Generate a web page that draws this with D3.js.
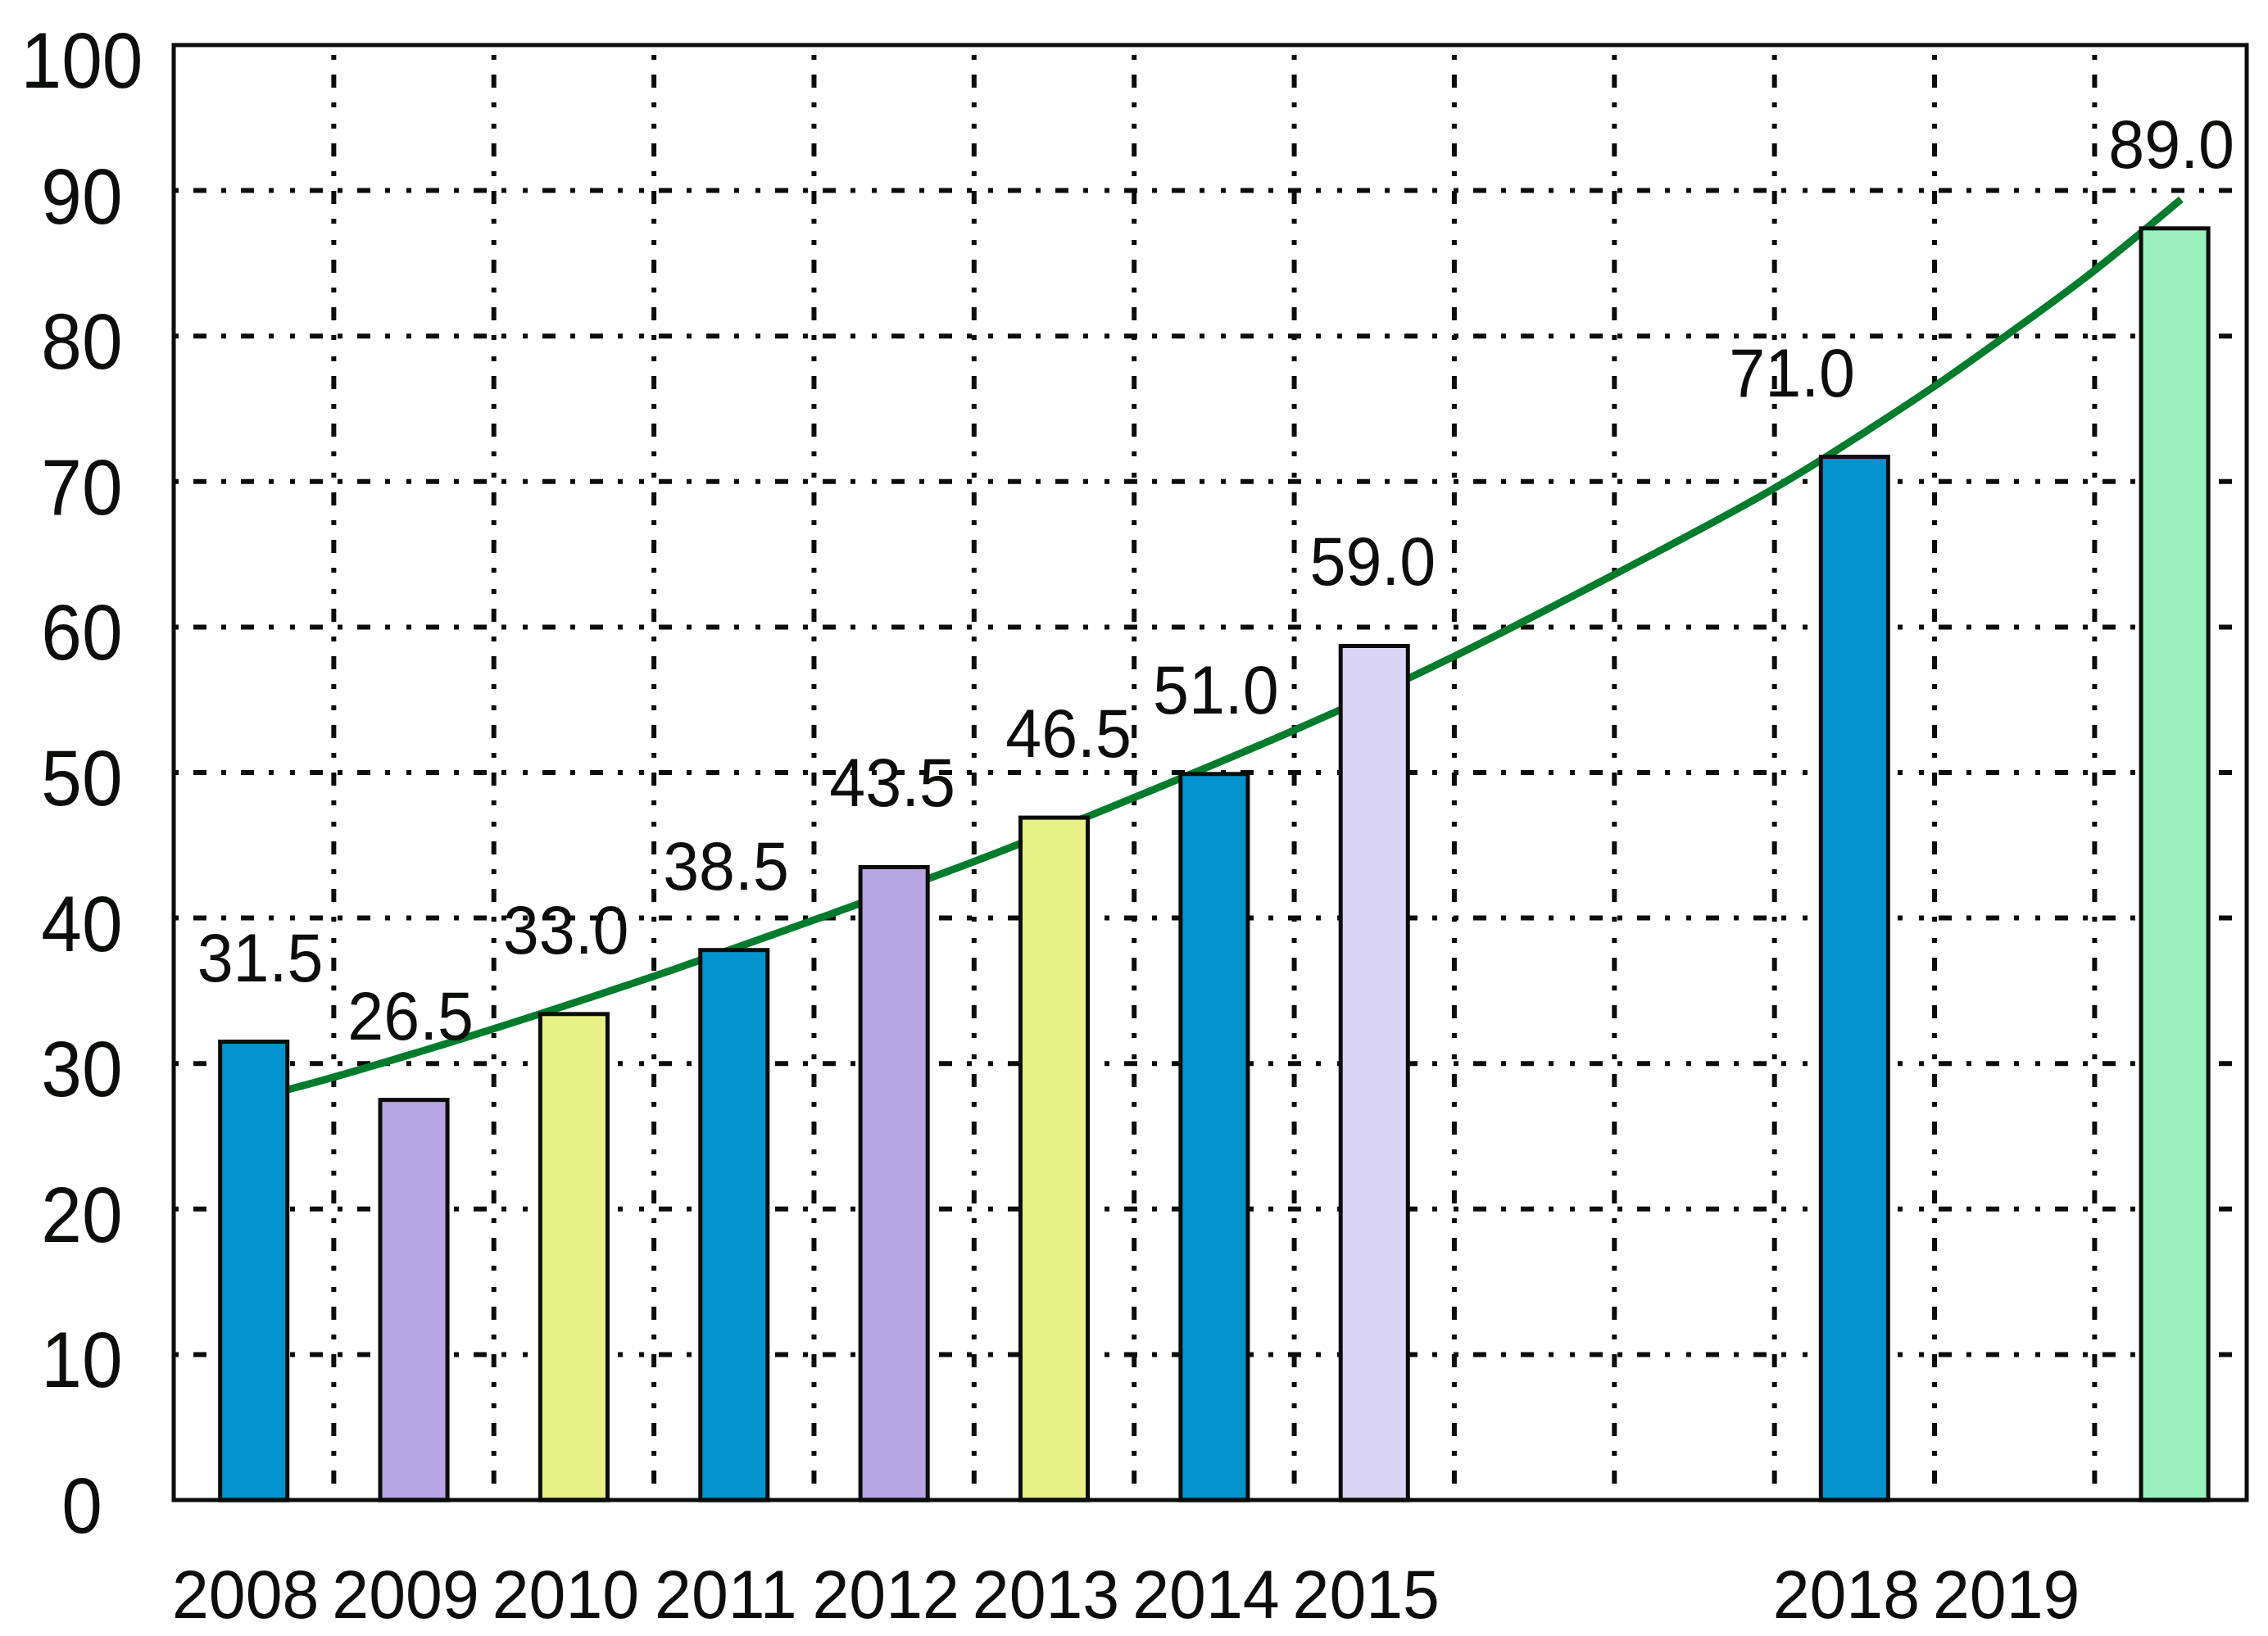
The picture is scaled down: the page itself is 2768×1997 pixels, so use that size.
<!DOCTYPE html>
<html>
<head>
<meta charset="utf-8">
<script src="https://cdn.jsdelivr.net/npm/d3@7"></script>
<style>
  html, body { margin: 0; padding: 0; background: #ffffff; }
  svg { display: block; }
  text { font-family: "Liberation Sans", Arial, sans-serif; fill: #0c0e0c; }
</style>
</head>
<body>
<svg id="chart" width="2768" height="1997"></svg>
<script>
// ---- data ----
const categories  = ['2008','2009','2010','2011','2012','2013','2014','2015','2018','2019'];
const barSlot     = [0, 1, 2, 3, 4, 5, 6, 7, 10, 12];
const barValues   = [31.5, 27.5, 33.4, 37.8, 43.5, 46.9, 49.9, 58.7, 71.7, 87.4];
const valueLabels = ['31.5','26.5','33.0','38.5','43.5','46.5','51.0','59.0','71.0','89.0'];
const labelNudge  = [0.04, -0.02, -0.05, -0.05, -0.01, 0.09, 0.01, -0.01, -0.39, -0.02];
const barColors   = ['#0393ce','#b8a5e3','#e8f186','#0393ce','#b8a5e3','#e8f186','#0393ce','#dad5f4','#0393ce','#9af1bd'];
const tickLabels  = ['2008','2009','2010','2011','2012','2013','2014','2015','2018','2019'];
const tickSlot    = [0, 1, 2, 3, 4, 5, 6, 7, 10, 11];
const yTicks      = [0, 10, 20, 30, 40, 50, 60, 70, 80, 90, 100];
const gridSlots   = [0.5, 1.5, 2.5, 3.5, 4.5, 5.5, 6.5, 7.5, 8.5, 9.5, 10.5, 11.5];
const trendSlot   = [0.21, 0.51, 1.52, 2.67, 3.51, 4.52, 5.24, 6.52, 7.52, 8.50, 9.52, 10.05, 10.53, 11.07, 11.51, 12.04];
const trendValue  = [28.2, 29.05, 32.4, 36.6, 39.9, 43.9, 47.1, 52.9, 58.0, 63.6, 69.5, 73.3, 76.7, 81.0, 84.5, 89.4];

// ---- layout ----
const svg = d3.select('#chart');
const ink = '#0b0d0b';
const x = d3.scaleLinear().domain([-0.5, 12.45]).range([212, 2742]);
const y = d3.scaleLinear().domain([0, 100]).range([1831, 55]);
const barW = x(0.42) - x(0);

svg.append('rect').attr('width', 2768).attr('height', 1997).attr('fill', '#fff');

// grid (dash-dot)
const dash = '6,18,16,18,6,18,16,18,6,20';
const grid = svg.append('g').attr('stroke', ink).attr('stroke-width', 6).attr('fill', 'none');
grid.selectAll('line.v').data(gridSlots).join('line')
  .attr('class', 'v')
  .attr('x1', d => x(d)).attr('x2', d => x(d))
  .attr('y1', y(100)).attr('y2', y(0))
  .attr('stroke-dasharray', dash).attr('stroke-dashoffset', 46);
grid.selectAll('line.h').data(yTicks.filter(v => v > 0 && v < 100)).join('line')
  .attr('class', 'h')
  .attr('x1', x(-0.5)).attr('x2', x(12.45))
  .attr('y1', d => y(d)).attr('y2', d => y(d))
  .attr('stroke-dasharray', dash).attr('stroke-dashoffset', 0);

// trend line
const trend = trendSlot.map((s, i) => [s, trendValue[i]]);
svg.append('path')
  .datum(trend)
  .attr('fill', 'none')
  .attr('stroke', '#007c2c')
  .attr('stroke-width', 9)
  .attr('d', d3.line().x(d => x(d[0])).y(d => y(d[1])).curve(d3.curveBasis));

// bars
svg.append('g').selectAll('rect').data(barValues).join('rect')
  .attr('x', (d, i) => x(barSlot[i]) - barW / 2)
  .attr('y', d => y(d))
  .attr('width', barW)
  .attr('height', d => y(0) - y(d))
  .attr('fill', (d, i) => barColors[i])
  .attr('stroke', ink)
  .attr('stroke-width', 5);

// frame
svg.append('rect')
  .attr('x', x(-0.5)).attr('y', y(100))
  .attr('width', x(12.45) - x(-0.5)).attr('height', y(0) - y(100))
  .attr('fill', 'none').attr('stroke', ink).attr('stroke-width', 5);

// value labels
svg.append('g').selectAll('text').data(valueLabels).join('text')
  .attr('transform', (d, i) => `translate(${x(barSlot[i] + labelNudge[i])},${y(barValues[i]) - 74}) scale(0.94,1)`)
  .attr('text-anchor', 'middle')
  .attr('font-size', 84)
  .text(d => d);

// y tick labels
svg.append('g').selectAll('text').data(yTicks).join('text')
  .attr('transform', d => `translate(100,${Math.max(y(d) + 40, 107)}) scale(0.92,1)`)
  .attr('text-anchor', 'middle')
  .attr('font-size', 97)
  .text(d => d);

// x tick labels
svg.append('g').selectAll('text').data(tickLabels).join('text')
  .attr('transform', (d, i) => `translate(${x(tickSlot[i]) - 10},1975) scale(0.96,1)`)
  .attr('text-anchor', 'middle')
  .attr('font-size', 84)
  .text(d => d);
</script>
</body>
</html>
